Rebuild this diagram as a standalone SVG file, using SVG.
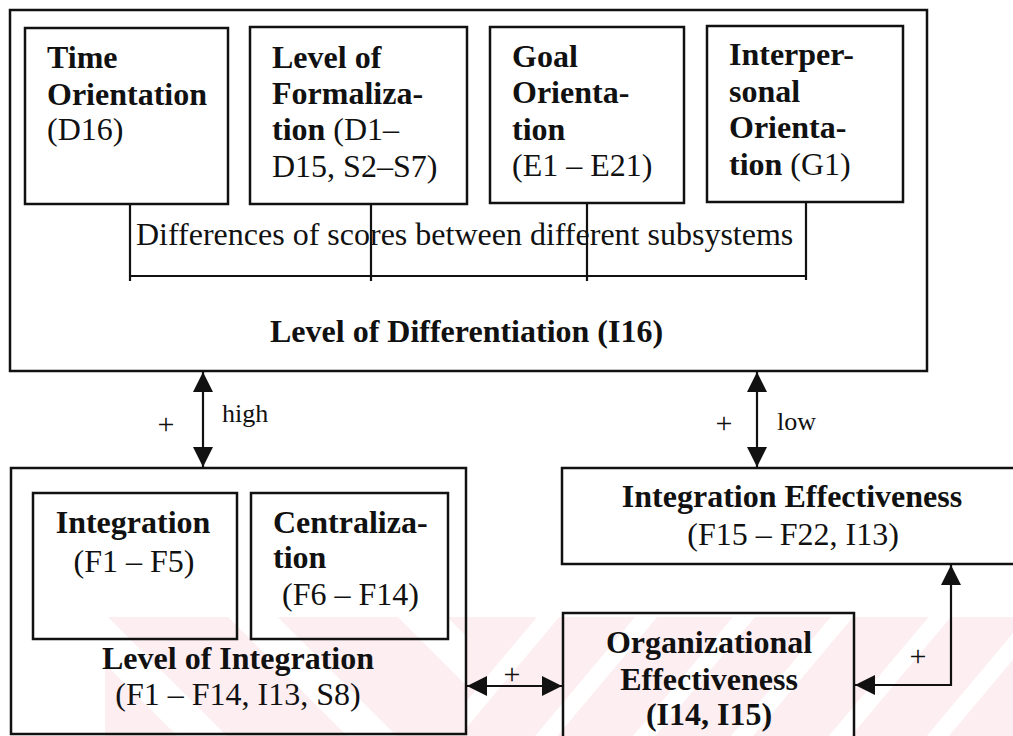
<svg xmlns="http://www.w3.org/2000/svg" width="1013" height="736" viewBox="0 0 1013 736">
  <style>
    .box { fill: none; stroke: #111; stroke-width: 2.5; }
    .inner { fill: none; stroke: #111; stroke-width: 2.5; }
    .ln { fill: none; stroke: #111; stroke-width: 2.2; }
    .t { font-family: "Liberation Serif", "Times New Roman", serif; font-size: 32px; fill: #111; }
    .b { font-weight: bold; }
    .s { font-family: "Liberation Serif", "Times New Roman", serif; font-size: 26px; fill: #111; }
    .p { font-family: "Liberation Serif", "Times New Roman", serif; font-size: 30px; fill: #111; }
    .c { text-anchor: middle; }
  </style>
  <defs>
    <marker id="head" viewBox="0 0 20 20" refX="20" refY="10" markerWidth="20" markerHeight="20" markerUnits="userSpaceOnUse" orient="auto-start-reverse">
      <path d="M0,0 L20,10 L0,20 Z" fill="#111"/>
    </marker>
    <pattern id="wmL" width="120" height="120" patternUnits="userSpaceOnUse" patternTransform="rotate(-45)">
      <rect width="120" height="120" fill="#fff"/>
      <rect x="0" width="85" height="120" fill="#fdeef1"/>
    </pattern>
    <pattern id="wmR" width="75" height="75" patternUnits="userSpaceOnUse" patternTransform="rotate(40)">
      <rect width="75" height="75" fill="#fff"/>
      <rect x="0" width="58" height="75" fill="#fdeef1"/>
    </pattern>
  </defs>

  <rect width="1013" height="736" fill="#fff"/>

  <!-- faint background print in the lower band -->
  <g id="backdrop">
    <rect x="105" y="617" width="360" height="119" fill="url(#wmL)"/>
    <rect x="465" y="617" width="548" height="119" fill="url(#wmR)"/>
  </g>

  <!-- Level of Differentiation (outer container) -->
  <g id="differentiation">
    <rect class="box" x="10" y="10" width="917" height="361"/>
    <text class="t b" x="270" y="342">Level of Differentiation (I16)</text>
  </g>

  <g id="time-orientation">
    <rect class="inner" x="25" y="28" width="203" height="176"/>
    <text class="t b" x="47" y="68">Time</text>
    <text class="t b" x="47" y="105">Orientation</text>
    <text class="t" x="47" y="140">(D16)</text>
  </g>

  <g id="formalization">
    <rect class="inner" x="250" y="27" width="217" height="177"/>
    <text class="t b" x="272" y="68">Level of</text>
    <text class="t b" x="272" y="104">Formaliza-</text>
    <text class="t" x="272" y="140"><tspan class="b">tion</tspan> (D1–</text>
    <text class="t" x="272" y="177">D15, S2–S7)</text>
  </g>

  <g id="goal-orientation">
    <rect class="inner" x="490" y="27" width="194" height="176"/>
    <text class="t b" x="512" y="67">Goal</text>
    <text class="t b" x="512" y="103">Orienta-</text>
    <text class="t b" x="512" y="140">tion</text>
    <text class="t" x="512" y="176">(E1 – E21)</text>
  </g>

  <g id="interpersonal-orientation">
    <rect class="inner" x="707" y="26" width="196" height="176"/>
    <text class="t b" x="729" y="65">Interper-</text>
    <text class="t b" x="729" y="102">sonal</text>
    <text class="t b" x="729" y="138">Orienta-</text>
    <text class="t" x="729" y="175"><tspan class="b">tion</tspan> (G1)</text>
  </g>

  <!-- bracket joining the four subsystems -->
  <g id="subsystem-bracket">
    <path class="ln" d="M130,204 V281 M371,204 V281 M587,203 V281 M806,202 V280 M130,276 H806"/>
    <text class="t" x="136" y="245">Differences of scores between different subsystems</text>
  </g>

  <g id="level-of-integration">
    <rect class="box" x="11" y="468" width="455" height="266"/>
    <text class="t b c" x="238" y="669">Level of Integration</text>
    <text class="t c" x="238" y="705">(F1 – F14, I13, S8)</text>
  </g>

  <g id="integration">
    <rect class="inner" x="33" y="493" width="204" height="146"/>
    <text class="t b c" x="133" y="533">Integration</text>
    <text class="t c" x="134" y="572">(F1 – F5)</text>
  </g>

  <g id="centralization">
    <rect class="inner" x="251" y="493" width="197" height="146"/>
    <text class="t b" x="273" y="533">Centraliza-</text>
    <text class="t b" x="273" y="568">tion</text>
    <text class="t" x="282" y="605">(F6 – F14)</text>
  </g>

  <g id="integration-effectiveness">
    <rect class="box" x="562" y="468" width="460" height="96"/>
    <text class="t b c" x="792" y="507">Integration Effectiveness</text>
    <text class="t c" x="793" y="545">(F15 – F22, I13)</text>
  </g>

  <g id="organizational-effectiveness">
    <rect class="box" x="563" y="613" width="291" height="140"/>
    <text class="t b c" x="709" y="653">Organizational</text>
    <text class="t b c" x="709" y="690">Effectiveness</text>
    <text class="t b c" x="709" y="725">(I14, I15)</text>
  </g>

  <!-- connectors -->
  <g id="connectors">
    <line class="ln" x1="203" y1="372" x2="203" y2="467" marker-start="url(#head)" marker-end="url(#head)"/>
    <text class="p c" x="166" y="434">+</text>
    <text class="s" x="222" y="422">high</text>

    <line class="ln" x1="757" y1="372" x2="757" y2="467" marker-start="url(#head)" marker-end="url(#head)"/>
    <text class="p c" x="724" y="433">+</text>
    <text class="s" x="777" y="430">low</text>

    <line class="ln" x1="467" y1="686" x2="562" y2="686" marker-start="url(#head)" marker-end="url(#head)"/>
    <text class="p c" x="512" y="684">+</text>

    <polyline class="ln" points="855,685 951,685 951,565" marker-start="url(#head)" marker-end="url(#head)"/>
    <text class="p c" x="918" y="666">+</text>
  </g>
</svg>
